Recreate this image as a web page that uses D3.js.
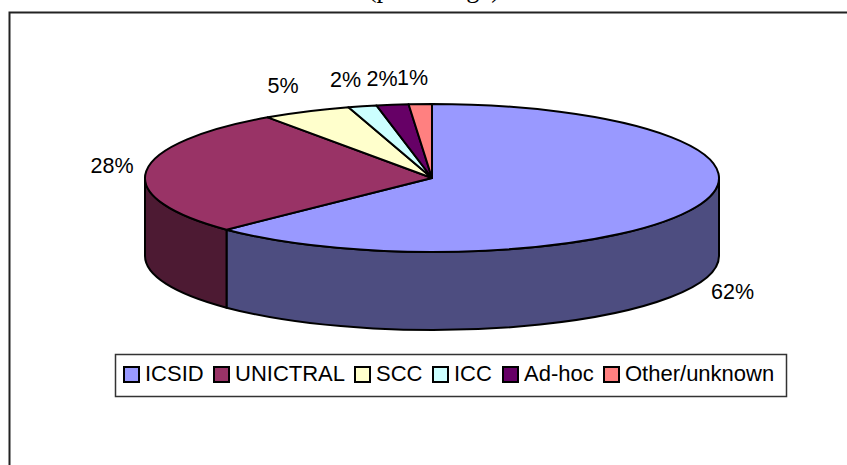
<!DOCTYPE html>
<html>
<head>
<meta charset="UTF-8" />
<title>Arbitration forum pie</title>
<script src="https://cdnjs.cloudflare.com/ajax/libs/d3/7.8.5/d3.min.js"></script>
<style>
  html, body { margin: 0; padding: 0; background: #fff; overflow: hidden; }
  svg { display: block; }
  text { font-family: "Liberation Sans", Arial, sans-serif; fill: #000; }
</style>
</head>
<body>
<script>
// slices, clockwise from twelve o'clock
var categories = ["ICSID", "UNICTRAL", "SCC", "ICC", "Ad-hoc", "Other/unknown"];
var shares = [62.7, 27.6, 5.0, 1.6, 1.8, 1.3];
var shareLabels = ["62%", "28%", "5%", "2%", "2%", "1%"];
var topColors = ["#9999ff", "#993366", "#ffffcc", "#ccffff", "#660066", "#ff8080"];
var sideColors = ["#4d4d80", "#4d1a33", "#80805f", "#668080", "#330033", "#804040"];
var titleText = "(percentage)";

var width = 847, height = 465;
var cx = 432, cy = 178, rx = 287, ry = 74, depth = 78;

var svg = d3.select("body").append("svg")
  .attr("width", width)
  .attr("height", height);

// frame: only the top and left edges are inside the crop
svg.append("path")
  .attr("d", "M848,12.5H9.5V466")
  .attr("fill", "none")
  .attr("stroke", "#222")
  .attr("stroke-width", 2);

// title is cut by the top of the picture in the reference too
svg.append("text")
  .attr("x", 434).attr("y", -3)
  .attr("text-anchor", "middle")
  .style("font-family", '"Liberation Serif", serif')
  .style("font-size", "26.5px")
  .text(titleText);

var pie = d3.pie().sort(null)(shares);

function px(a) { return cx + rx * Math.sin(a); }
function py(a) { return cy - ry * Math.cos(a); }

// rim is only visible on the front half, a = PI/2 .. 3PI/2
var front = pie.map(function (d) {
  return {
    index: d.index,
    a0: Math.max(d.startAngle, Math.PI / 2),
    a1: Math.min(d.endAngle, 3 * Math.PI / 2)
  };
}).filter(function (d) { return d.a1 > d.a0; });

svg.append("g").selectAll("path")
  .data(front)
  .enter().append("path")
  .attr("d", function (d) {
    return "M" + px(d.a0) + "," + py(d.a0)
      + "L" + px(d.a0) + "," + (py(d.a0) + depth)
      + "A" + rx + "," + ry + " 0 0 1 " + px(d.a1) + "," + (py(d.a1) + depth)
      + "L" + px(d.a1) + "," + py(d.a1)
      + "A" + rx + "," + ry + " 0 0 0 " + px(d.a0) + "," + py(d.a0) + "Z";
  })
  .attr("fill", function (d) { return sideColors[d.index]; })
  .attr("stroke", "#000")
  .attr("stroke-width", 2)
  .attr("stroke-linejoin", "round");

// top face: circular arc squashed into the ellipse
var arc = d3.arc().innerRadius(0).outerRadius(rx);
svg.append("g")
  .attr("transform", "translate(" + cx + "," + cy + ") scale(1," + (ry / rx) + ")")
  .selectAll("path")
  .data(pie)
  .enter().append("path")
  .attr("d", arc)
  .attr("fill", function (d) { return topColors[d.index]; })
  .attr("stroke", "#000")
  .attr("stroke-width", 2)
  .attr("stroke-linejoin", "round")
  .attr("vector-effect", "non-scaling-stroke");

// data labels, nudged by hand like the original
var labelPos = [[732.5, 299], [112, 173], [283, 93], [345.5, 87], [382, 85.5], [412.5, 85]];
svg.append("g").selectAll("text")
  .data(pie)
  .enter().append("text")
  .attr("x", function (d) { return labelPos[d.index][0]; })
  .attr("y", function (d) { return labelPos[d.index][1]; })
  .attr("text-anchor", "middle")
  .style("font-size", "21.5px")
  .text(function (d) { return shareLabels[d.index]; });

// legend
var legend = svg.append("g");
legend.append("rect")
  .attr("x", 115.5).attr("y", 354.5)
  .attr("width", 671).attr("height", 42)
  .attr("fill", "#fff")
  .attr("stroke", "#333")
  .attr("stroke-width", 1.5);

var swatchX = [124, 214, 355, 433, 503, 604];
var item = legend.selectAll("g")
  .data(categories)
  .enter().append("g")
  .attr("transform", function (d, i) { return "translate(" + swatchX[i] + ",367)"; });
item.append("rect")
  .attr("width", 15).attr("height", 15)
  .attr("fill", function (d, i) { return topColors[i]; })
  .attr("stroke", "#000")
  .attr("stroke-width", 2);
item.append("text")
  .attr("x", 21).attr("y", 14)
  .style("font-size", "22px")
  .text(function (d) { return d; });
</script>
</body>
</html>
